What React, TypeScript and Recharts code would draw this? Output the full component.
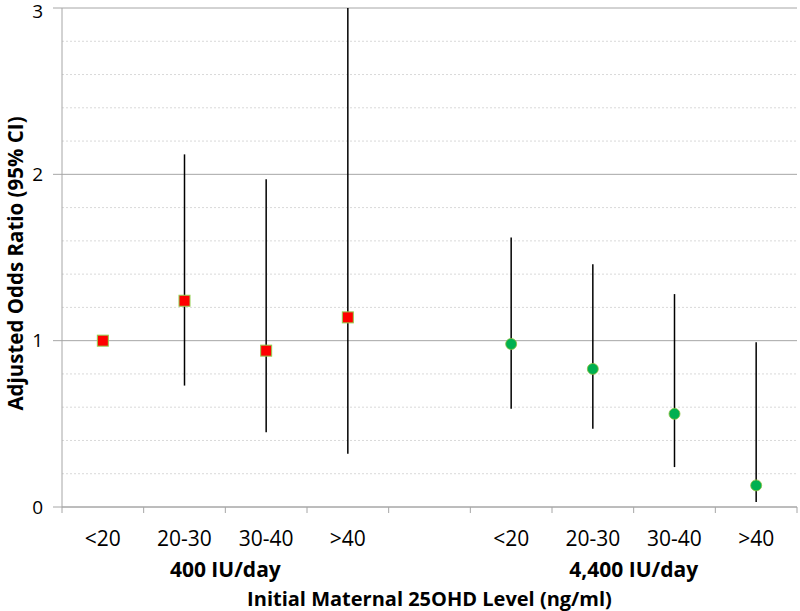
// @ts-nocheck
import React from 'react'
import { ComposedChart, Scatter, ErrorBar, XAxis, YAxis, CartesianGrid, ReferenceLine, Label } from 'recharts'

// 9 slots: 4 categories per dose group, one empty slot between groups
const categories = ['<20', '20-30', '30-40', '>40', '', '<20', '20-30', '30-40', '>40']
const groupLabels = ['400 IU/day', '4,400 IU/day']
const groupCenters = [2, 7]

// 400 IU/day (slots 0-3)
const lowOR = [1.0, 1.24, 0.94, 1.14]
const lowLo = [1.0, 0.73, 0.45, 0.32]
const lowHi = [1.0, 2.12, 1.97, 3.0]

// 4,400 IU/day (slots 5-8)
const highOR = [0.98, 0.83, 0.56, 0.13]
const highLo = [0.59, 0.47, 0.24, 0.03]
const highHi = [1.62, 1.46, 1.28, 0.99]

const yTicks = [0, 1, 2, 3]
const minorTicks = [0.2, 0.4, 0.6, 0.8, 1.2, 1.4, 1.6, 1.8, 2.2, 2.4, 2.6, 2.8]
const boundaryTicks = [0, 1, 2, 3, 4, 5, 6, 7, 8, 9]
const centerTicks = [0.5, 1.5, 2.5, 3.5, 4.5, 5.5, 6.5, 7.5, 8.5]

const lowData = lowOR.map((v, i) => ({ x: i + 0.5, y: v, err: [v - lowLo[i], lowHi[i] - v] }))
const highData = highOR.map((v, i) => ({ x: i + 5.5, y: v, err: [v - highLo[i], highHi[i] - v] }))

const font = '"Open Sans", sans-serif'
const gridGray = '#a6a6a6'

const Square = ({ cx, cy }: any) => (
  <rect x={cx - 5.5} y={cy - 5.5} width={11} height={11} fill="#ff0000" stroke="#92d050" strokeWidth={1} />
)
const Dot = ({ cx, cy }: any) => (
  <circle cx={cx} cy={cy} r={5.5} fill="#00b050" stroke="#8fbf3f" strokeWidth={0.8} />
)
const Nothing = () => null

export default function App() {
  return (
    <div style={{ position: 'absolute', left: 0, top: 0, width: 800, height: 611, background: '#fff', fontFamily: font }}>
      <ComposedChart width={800} height={611} margin={{ top: 8, right: 3, left: 0, bottom: 0 }}>
        <CartesianGrid vertical={false} stroke={gridGray} xAxisId="b" />
        {minorTicks.map(t => (
          <ReferenceLine key={t} y={t} xAxisId="b" stroke="#d9d9d9" strokeDasharray="2 2" />
        ))}
        <XAxis xAxisId="b" type="number" dataKey="x" domain={[0, 9]} ticks={boundaryTicks} height={10} allowDataOverflow
          tickFormatter={() => ''} tickSize={6} axisLine={{ stroke: gridGray }} tickLine={{ stroke: gridGray }} interval={0} />
        <XAxis xAxisId="cat" type="number" dataKey="x" domain={[0, 9]} ticks={centerTicks} height={40} interval={0} allowDataOverflow
          tickFormatter={(v) => categories[Math.floor(v)]} axisLine={false} tickLine={false} tickSize={0} tickMargin={14}
          tick={{ fill: '#000', fontSize: 21, fontFamily: font }} />
        <XAxis xAxisId="grp" type="number" dataKey="x" domain={[0, 9]} ticks={groupCenters} height={54} interval={0} allowDataOverflow
          tickFormatter={(v) => groupLabels[groupCenters.indexOf(v)]} axisLine={false} tickLine={false} tickSize={0} tickMargin={5}
          tick={{ fill: '#000', fontSize: 21, fontWeight: 'bold', fontFamily: font }}>
          <Label value="Initial Maternal 25OHD Level (ng/ml)" position="insideBottom" offset={5}
            style={{ fill: '#000', fontSize: 20, fontWeight: 'bold', fontFamily: font }} />
        </XAxis>
        <YAxis type="number" domain={[0, 3]} ticks={yTicks} width={62} allowDataOverflow
          axisLine={{ stroke: gridGray }} tickLine={{ stroke: gridGray }} tickSize={9} tickMargin={10}
          tick={{ fill: '#000', fontSize: 19, fontFamily: font }}>
          <Label content={({ viewBox }: any) => (
            <text x={viewBox.x + 15} y={viewBox.y + viewBox.height / 2 + 6} transform={`rotate(-90 ${viewBox.x + 15} ${viewBox.y + viewBox.height / 2 + 6})`}
              textAnchor="middle" dominantBaseline="central" fill="#000" fontSize={20.5} fontWeight="bold" fontFamily={font}>
              Adjusted Odds Ratio (95% CI)
            </text>
          )} />
        </YAxis>
        <Scatter data={lowData} dataKey="y" xAxisId="cat" isAnimationActive={false} shape={Nothing} />
        <Scatter data={lowData} dataKey="y" xAxisId="grp" isAnimationActive={false} shape={Nothing} />
        <Scatter data={lowData} dataKey="y" xAxisId="b" isAnimationActive={false} shape={Square}>
          <ErrorBar dataKey="err" direction="y" width={0} stroke="#000" strokeWidth={1.5} isAnimationActive={false} />
        </Scatter>
        <Scatter data={highData} dataKey="y" xAxisId="b" isAnimationActive={false} shape={Dot}>
          <ErrorBar dataKey="err" direction="y" width={0} stroke="#000" strokeWidth={1.5} isAnimationActive={false} />
        </Scatter>
      </ComposedChart>
    </div>
  )
}
